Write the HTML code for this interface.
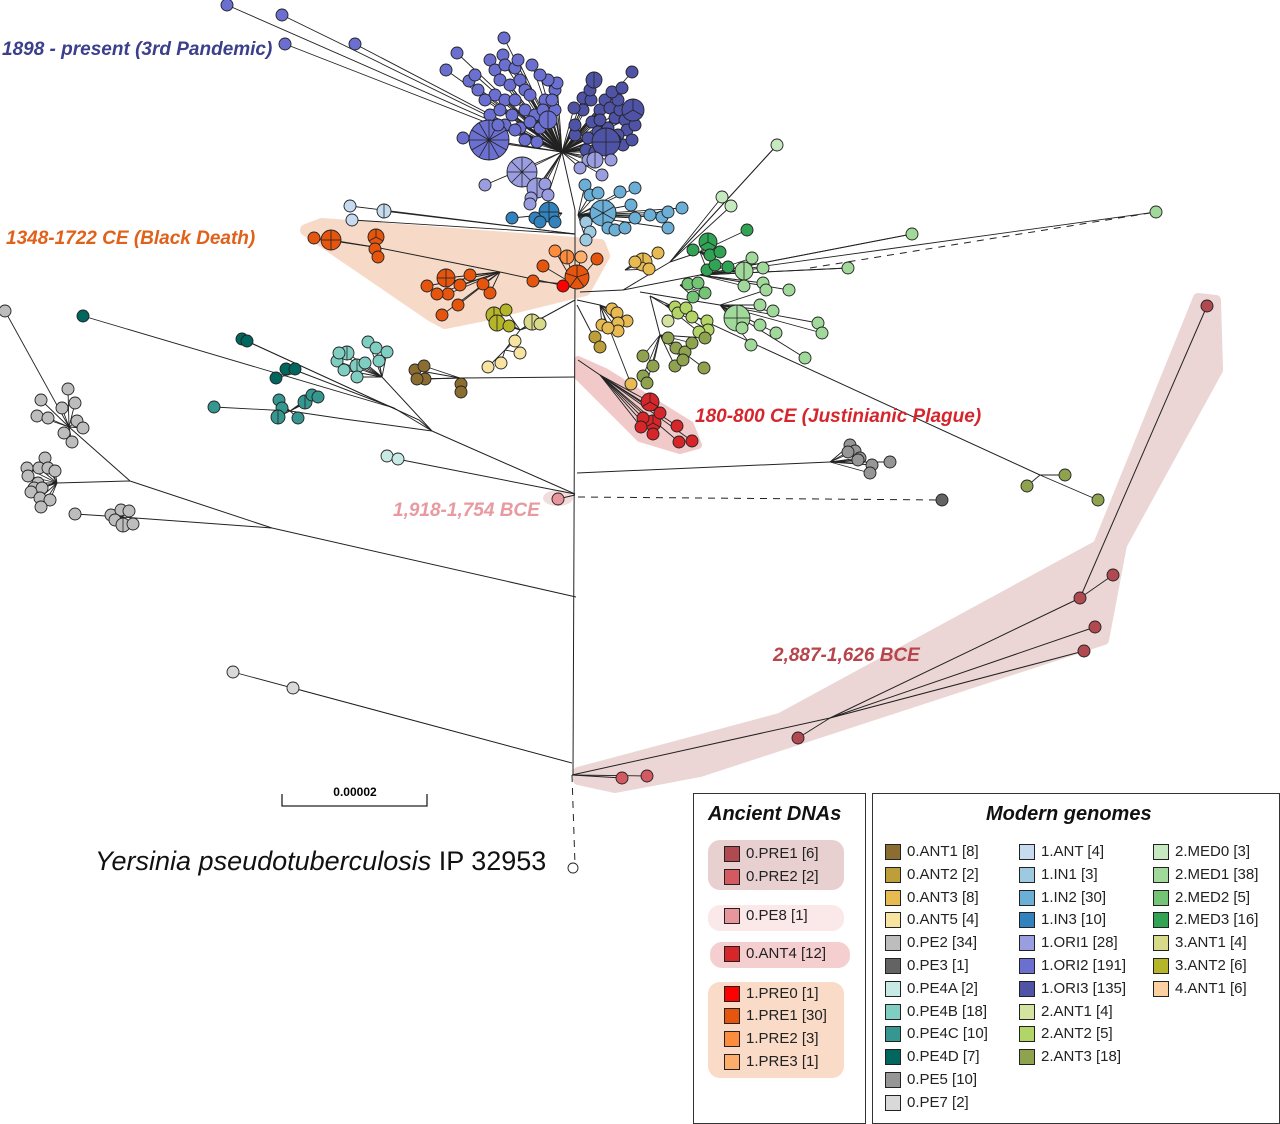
<!DOCTYPE html>
<html><head><meta charset="utf-8">
<style>
body{margin:0;background:#fff;width:1280px;height:1124px;overflow:hidden;position:relative;font-family:"Liberation Sans",sans-serif}
svg{position:absolute;left:0;top:0}
.box{position:absolute;border:1px solid #333;background:#fff}
.title{position:absolute;font-weight:bold;font-style:italic;font-size:20px;color:#111}
.it{position:absolute;font-size:15px;color:#222;white-space:nowrap;line-height:18px}
.sw{position:absolute;width:16px;height:16px;border:1px solid #222;box-sizing:border-box}
.bg{position:absolute;border-radius:12px}
.lbl{position:absolute;font-weight:bold;font-style:italic;font-size:19px;white-space:nowrap}
</style></head><body>
<svg id="tree" width="1280" height="1124"></svg>

<div class="lbl" style="left:2px;top:39px;color:#3b3f8c">1898 - present (3rd Pandemic)</div>
<div class="lbl" style="left:6px;top:228px;color:#e0611a">1348-1722 CE (Black Death)</div>
<div class="lbl" style="left:695px;top:406px;color:#d6262d">180-800 CE (Justinianic Plague)</div>
<div class="lbl" style="left:393px;top:500px;color:#e89aa0">1,918-1,754 BCE</div>
<div class="lbl" style="left:773px;top:645px;color:#b6454c">2,887-1,626 BCE</div>
<div style="position:absolute;left:95px;top:846px;font-size:27px;color:#111;white-space:nowrap"><i>Yersinia pseudotuberculosis</i> IP 32953</div>
<div style="position:absolute;left:282px;top:785px;width:146px;text-align:center;font-size:12px;font-weight:bold">0.00002</div>

<div class="box" style="left:693px;top:793px;width:171px;height:329px">
<div class="title" style="left:14px;top:9px">Ancient DNAs</div>
</div>
<div class="box" style="left:872px;top:793px;width:406px;height:329px">
<div class="title" style="left:113px;top:9px">Modern genomes</div>
</div>
<div id="legend"></div>

<script>
const NS="http://www.w3.org/2000/svg";
const svg=document.getElementById('tree');
const C={ORI1:'#9a9ee0',ORI2:'#6b6fd0',ORI3:'#4f53a6',IN1:'#9ecae1',IN2:'#6baed6',IN3:'#3182bd',ANT:'#c6dbef',
BD1:'#e6550d',BD2:'#fd8d3c',BD3:'#fdae6b',BD0:'#ff0000',ANT4:'#d7262a',P1:'#b04a50',P2:'#d45a62',PE8:'#e8959b',
A01:'#8c6d31',A02:'#bd9e39',A03:'#e7ba52',A05:'#f7e4a0',PE2:'#bdbdbd',PE3:'#636363',PE4A:'#c7eae5',PE4B:'#80cdc1',
PE4C:'#35978f',PE4D:'#01665e',PE5:'#969696',PE7:'#d9d9d9',M0:'#c7e9c0',M1:'#a1d99b',M2:'#74c476',M3:'#31a354',
A31:'#d9d98a',A32:'#b5b52a',A41:'#fdd0a2',A21:'#d4e3a0',A22:'#b3d466',A23:'#8fa34f'};

// internal branches [x1,y1,x2,y2,dashed]
const branches=[[573,775,575,290],[575,290,575,210],[575,210,562,152],[575,288,500,272],[500,272,380,248],
[580,292,623,290],[623,290,670,262],[670,262,777,145],[670,262,700,252],[623,290,700,275],[700,275,912,234],[700,275,848,268],
[810,268,1156,212,1],[640,292,720,305],[650,296,665,305],[650,296,660,335],[650,296,1040,475],[577,300,600,305],[577,305,590,330],
[578,360,600,375],[575,300,520,330],[520,330,505,350],[575,377,460,378],[577,473,830,462],[578,497,942,500,1],
[575,494,402,460],[575,494,432,431],[432,431,394,408],[394,408,300,372],[432,431,419,420],[432,431,382,377],[432,431,344,419],[344,419,290,411],
[576,597,272,528],[272,528,130,481],[272,528,122,517],[130,481,69,427],[130,481,57,483],
[572,775,830,718],[830,718,1080,598],[1080,598,1207,306],[830,718,1095,627],[830,718,1084,651],[572,775,575,865,1]];

// tip groups: hub x,y ; tips [x,y,r,spokes]
const groups=[
{c:'ORI2',h:[562,152],t:[[227,5],[282,15],[285,44],[355,44],[457,53],[504,38],[503,55],[490,60],[495,70],[505,65],[515,68],[518,60],[500,80],[510,85],[520,80],[525,90],[495,95],[505,100],[515,100],[530,95],[485,100],[490,115],[500,110],[512,115],[525,110],[535,115],[505,125],[520,128],[530,122],[540,128],[537,142],[525,140],[545,100],[555,90],[557,83],[548,80],[543,110],[555,110],[463,138],[469,81],[446,70],[475,75],[489,140,20,12],[548,120,9,2],[532,65],[540,75],[552,100],[478,90],[515,130],[498,125]]},
{c:'ORI3',h:[562,152],t:[[632,72],[583,98],[583,110],[591,100],[592,122],[600,110],[605,100],[610,108],[615,118],[620,110],[625,120],[630,108],[627,130],[618,135],[608,128],[598,132],[588,138],[575,135],[575,125],[586,150],[595,152],[623,145],[632,140],[635,125],[618,100],[615,140],[574,108],[590,90],[612,92],[606,142,14,4],[633,110,11,3],[594,80,8,2],[622,88],[600,120]]},
{c:'ORI1',h:[562,152],t:[[522,172,15,8],[537,188,10,2],[485,185],[531,198],[545,184],[588,160],[611,160],[602,175],[530,204],[595,160,8,2],[580,168],[548,195]]},
{c:'IN2',h:[578,215],t:[[603,213,13,6],[585,185],[590,195],[598,193],[620,192],[635,188],[631,205],[635,218],[650,215],[662,217],[668,212],[682,208],[668,228],[608,228],[615,230],[625,228]]},
{c:'IN3',h:[562,213],t:[[549,212,10,4],[512,218],[535,218],[540,222],[555,222]]},
{c:'IN1',h:[578,215],t:[[586,222],[590,232],[586,240]]},
{c:'ANT',h:[575,234],t:[[350,206],[384,211,7,2],[352,220]]},
{c:'BD1',h:[575,285],t:[[577,277,12,5],[597,259],[543,266],[533,281]]},
{c:'BD2',h:[575,285],t:[[555,251],[567,257,7,2]]},
{c:'BD3',h:[575,285],t:[[581,257]]},
{c:'BD0',h:[575,285],t:[[563,286]]},
{c:'BD1',h:[500,272],t:[[490,293],[483,284],[470,275],[460,285],[458,305],[442,315],[448,294],[437,294],[427,286],[446,278,9,4]]},
{c:'BD1',h:[380,248],t:[[376,237,8,3],[375,249],[378,257],[331,240,10,4],[314,238]]},
{c:'A03',h:[625,270],t:[[643,262,9,3],[635,262],[658,253],[649,269]]},
{c:'A03',h:[600,305],t:[[612,309],[617,313],[627,321],[618,323],[618,331],[602,325],[608,328],[631,384]]},
{c:'A02',h:[590,330],t:[[595,337],[600,347]]},
{c:'M0',h:[670,262],t:[[777,145],[722,197],[731,206]]},
{c:'M3',h:[700,252],t:[[708,242,9,3],[693,250],[747,230],[728,267],[707,270],[715,265],[710,255],[720,252]]},
{c:'M1',h:[700,275],t:[[744,271,9,2],[752,258],[763,268],[763,283],[789,290],[848,268],[912,234],[1156,212],[744,286]]},
{c:'M2',h:[680,285],t:[[688,284],[698,283],[705,293],[693,297]]},
{c:'M1',h:[720,305],t:[[737,318,13,4],[776,333],[818,323],[822,333],[805,358],[773,311],[760,305],[742,328],[760,325],[751,345],[766,290]]},
{c:'A22',h:[665,305],t:[[675,307],[678,313],[686,308],[692,317],[707,321],[708,330],[699,332]]},
{c:'A21',h:[665,315],t:[[668,321]]},
{c:'A23',h:[660,335],t:[[668,338],[676,348],[685,352],[692,343],[705,338],[643,356],[653,366],[643,376],[647,383],[675,366],[683,360],[704,368]]},
{c:'A23',h:[1040,475],t:[[1065,475],[1027,486],[1098,500]]},
{c:'ANT4',h:[600,375],t:[[650,402,9,3],[653,423,8,3],[643,418],[660,413],[641,427],[653,434],[677,426],[679,442],[692,441]]},
{c:'A32',h:[520,330],t:[[494,315,8,2],[497,323,8,2],[506,310],[509,326]]},
{c:'A31',h:[520,330],t:[[532,322,8,2],[540,324]]},
{c:'A05',h:[505,350],t:[[488,367],[501,363],[515,341],[520,353]]},
{c:'A01',h:[460,378],t:[[415,370],[424,366],[425,379],[417,379],[461,384],[461,392]]},
{c:'PE5',h:[830,462],t:[[850,445],[855,451],[848,452],[860,458],[872,465],[870,473],[890,462],[858,460]]},
{c:'PE3',h:[942,500],t:[[942,500]]},
{c:'PE8',h:[575,495],t:[[558,499]]},
{c:'PE4A',h:[402,460],t:[[387,456],[398,459]]},
{c:'PE4D',h:[394,408],t:[[83,316]]},
{c:'PE4D',h:[300,372],t:[[286,369],[295,369],[276,378]]},
{c:'PE4D',h:[419,420],t:[[242,339],[247,341]]},
{c:'PE4B',h:[382,377],t:[[347,353,7,2],[357,366,7,2],[337,361],[344,370],[357,377],[365,363],[368,342],[376,348],[387,352],[379,361],[339,353]]},
{c:'PE4C',h:[290,411],t:[[214,407],[279,400],[282,408],[278,417,7,2],[298,418],[305,402,7,2],[312,395],[318,397]]},
{c:'PE2',h:[69,427],t:[[5,311],[68,389],[41,400],[62,408],[75,403],[37,416],[48,418],[77,421],[83,428],[64,433],[72,442]]},
{c:'PE2',h:[57,483],t:[[45,458],[27,468],[39,468],[48,468],[55,471],[28,476],[38,483],[34,488],[42,488],[31,492],[40,498],[50,500],[41,507]]},
{c:'PE2',h:[122,517],t:[[75,514],[111,515],[121,510],[129,511],[115,520],[123,525,7,2],[133,524]]},
{c:'PE7',h:[572,763],t:[[233,672],[293,688]]},
{c:'P2',h:[572,775],t:[[622,778],[647,776]]},
{c:'P1',h:[830,718],t:[[798,738]]},
{c:'P1',h:[1080,598],t:[[1080,598],[1113,575]]},
{c:'P1',h:[1207,306],t:[[1207,306]]},
{c:'P1',h:[1095,627],t:[[1095,627]]},
{c:'P1',h:[1084,651],t:[[1084,651]]}
];

function el(tag,attrs,name){const e=document.createElementNS(NS,tag);for(const k in attrs)e.setAttribute(k,attrs[k]);


svg.appendChild(e);return e;}

// highlights
el('path',{d:'M306,230 L322,224 L600,245 L604,256 L585,290 L480,316 L445,323 L432,316 Z',fill:'#f7d9c8',stroke:'#f7d9c8','stroke-width':12,'stroke-linejoin':'round'},'black-death-highlight');
el('path',{d:'M578,360 L605,372 L690,425 L698,445 L680,450 L640,438 L578,376 Z',fill:'#f1c9c9',stroke:'#f1c9c9','stroke-width':8,'stroke-linejoin':'round'},'justinianic-highlight');
el('ellipse',{cx:558,cy:498,rx:15,ry:8,fill:'#f3dcdc'},'bce-1918-highlight');
el('path',{d:'M578,772 L780,718 L1098,545 L1198,298 L1216,300 L1218,370 L1122,545 L1104,640 L700,772 L615,788 L578,780 Z',fill:'#ecd5d5',stroke:'#ecd5d5','stroke-width':10,'stroke-linejoin':'round'},'ancient-pre-highlight');

branches.forEach(b=>{el('line',{x1:b[0],y1:b[1],x2:b[2],y2:b[3],stroke:'#222','stroke-width':1,'stroke-dasharray':b[4]?'7,6':'none'},'branch');});
groups.forEach(g=>g.t.forEach(t=>{ if(t[0]!==g.h[0]||t[1]!==g.h[1]) el('line',{x1:g.h[0],y1:g.h[1],x2:t[0],y2:t[1],stroke:'#222','stroke-width':0.9},'tip-branch');}));
groups.forEach(g=>g.t.forEach(t=>{const r=t[2]||6;
 el('circle',{cx:t[0],cy:t[1],r:r,fill:C[g.c],stroke:'#222','stroke-width':0.9},'tip-'+g.c.toLowerCase());
 const n=t[3]||0;for(let i=0;i<n;i++){const a=Math.PI*2*i/n-Math.PI/2;
  el('line',{x1:t[0],y1:t[1],x2:t[0]+r*Math.cos(a),y2:t[1]+r*Math.sin(a),stroke:'#222','stroke-width':0.8},'pie-divider');}}));
el('circle',{cx:573,cy:868,r:5,fill:'#fff',stroke:'#222','stroke-width':0.9},'outgroup-tip');
el('path',{d:'M282,794 L282,806 L427,806 L427,794',fill:'none',stroke:'#222','stroke-width':1.3},'scale-bar');

// legend
const leg=document.getElementById('legend');
const bgs=[[708,840,136,50,'#e9d0d0'],[708,905,136,26,'#fbe8e9'],[710,942,140,26,'#f5cfd0'],[708,982,136,96,'#fadbc8']];
bgs.forEach(b=>{const d=document.createElement('div');d.className='bg';d.style.cssText=`left:${b[0]}px;top:${b[1]}px;width:${b[2]}px;height:${b[3]}px;background:${b[4]}`;


leg.appendChild(d);});
const ancient=[['0.PRE1 [6]','#b04a50',846],['0.PRE2 [2]','#d45a62',869],['0.PE8 [1]','#e8959b',908],['0.ANT4 [12]','#d7262a',946],
['1.PRE0 [1]','#ff0000',986],['1.PRE1 [30]','#e6550d',1008],['1.PRE2 [3]','#fd8d3c',1031],['1.PRE3 [1]','#fdae6b',1054]];
const modern=[
['0.ANT1 [8]','#8c6d31'],['0.ANT2 [2]','#bd9e39'],['0.ANT3 [8]','#e7ba52'],['0.ANT5 [4]','#f7e4a0'],['0.PE2 [34]','#bdbdbd'],['0.PE3 [1]','#636363'],['0.PE4A [2]','#c7eae5'],['0.PE4B [18]','#80cdc1'],['0.PE4C [10]','#35978f'],['0.PE4D [7]','#01665e'],['0.PE5 [10]','#969696'],['0.PE7 [2]','#d9d9d9'],
['1.ANT [4]','#c6dbef'],['1.IN1 [3]','#9ecae1'],['1.IN2 [30]','#6baed6'],['1.IN3 [10]','#3182bd'],['1.ORI1 [28]','#9a9ee0'],['1.ORI2 [191]','#6b6fd0'],['1.ORI3 [135]','#4f53a6'],['2.ANT1 [4]','#d4e3a0'],['2.ANT2 [5]','#b3d466'],['2.ANT3 [18]','#8fa34f'],
['2.MED0 [3]','#c7e9c0'],['2.MED1 [38]','#a1d99b'],['2.MED2 [5]','#74c476'],['2.MED3 [16]','#31a354'],['3.ANT1 [4]','#d9d98a'],['3.ANT2 [6]','#b5b52a'],['4.ANT1 [6]','#fdd0a2']];
function entry(x,y,txt,col){const s=document.createElement('div');s.className='sw';s.style.cssText=`left:${x}px;top:${y}px;background:${col}`;


leg.appendChild(s);
const t=document.createElement('div');t.className='it';t.style.left=(x+22)+'px';t.style.top=(y-1)+'px';t.textContent=txt;


leg.appendChild(t);}
ancient.forEach(a=>entry(724,a[2],a[0],a[1]));
const cols=[[885,12],[1019,10],[1153,7]];let k=0;
cols.forEach(c=>{for(let i=0;i<c[1];i++){const m=modern[k++];entry(c[0],844+i*22.8,m[0],m[1]);}});
</script>
</body></html>
